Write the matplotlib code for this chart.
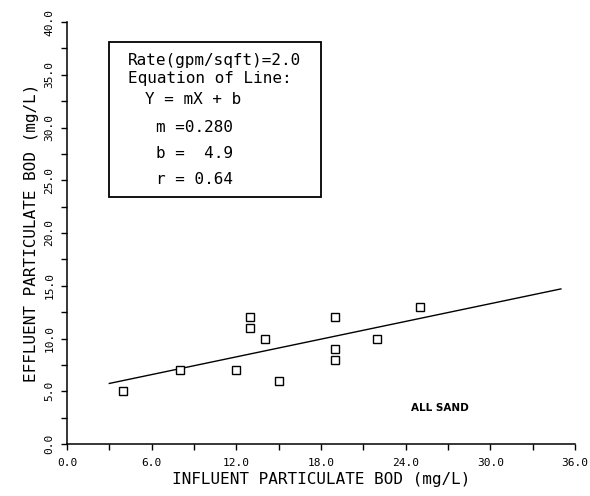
import matplotlib
matplotlib.use("Agg")
import matplotlib.pyplot as plt
from matplotlib.ticker import MultipleLocator, FormatStrFormatter
import numpy as np

# Influent vs effluent particulate BOD, all-sand filter
influent = [4, 8, 12, 13, 13, 14, 15, 19, 19, 19, 22, 25]
effluent = [5, 7, 7, 12, 11, 10, 6, 12, 9, 8, 10, 13]

slope = 0.280
intercept = 4.9
r_value = 0.64
rate = 2.0
fit_range = [3.0, 35.0]

x_ticks = [0, 6, 12, 18, 24, 30, 36]
y_ticks = [0, 5, 10, 15, 20, 25, 30, 35, 40]

mono = "DejaVu Sans Mono"

fig = plt.figure(figsize=(5.90, 4.96), dpi=100)
ax = fig.add_axes([67 / 590, 1 - 444 / 496, 508 / 590, 422 / 496])

ax.plot(influent, effluent, linestyle="none", marker="s", markersize=5.2,
        markerfacecolor="white", markeredgecolor="black", markeredgewidth=1.0,
        zorder=3)

fx = np.array(fit_range)
ax.plot(fx, slope * fx + intercept, color="black", linewidth=1.0, zorder=2)

ax.set_xlim(x_ticks[0], x_ticks[-1])
ax.set_ylim(y_ticks[0], y_ticks[-1])
ax.set_xticks(x_ticks)
ax.set_yticks(y_ticks)
ax.xaxis.set_minor_locator(MultipleLocator(3))
ax.yaxis.set_minor_locator(MultipleLocator(2.5))
ax.xaxis.set_major_formatter(FormatStrFormatter("%.1f"))
ax.yaxis.set_major_formatter(FormatStrFormatter("%.1f"))

for side in ("top", "right"):
    ax.spines[side].set_visible(False)
for side in ("left", "bottom"):
    ax.spines[side].set_linewidth(1.1)

ax.tick_params(which="both", direction="out", length=4, width=1.0, color="black")
ax.tick_params(axis="x", which="major", pad=6)
ax.tick_params(axis="y", which="major", pad=5)
for lab in ax.get_xticklabels():
    lab.set_fontfamily(mono)
    lab.set_fontsize(8)
for lab in ax.get_yticklabels():
    lab.set_fontfamily(mono)
    lab.set_fontsize(8)
    lab.set_rotation(90)
    lab.set_verticalalignment("center")

ax.set_xlabel("INFLUENT PARTICULATE BOD (mg/L)", fontfamily=mono,
              fontsize=11.5, labelpad=3)
ax.set_ylabel("EFFLUENT PARTICULATE BOD (mg/L)", fontfamily=mono,
              fontsize=11.5, labelpad=4)

# Equation box
box = plt.Rectangle((42 / 508, 247 / 422), 212 / 508, 155 / 422,
                    transform=ax.transAxes, fill=False, edgecolor="black",
                    linewidth=1.3, zorder=4)
ax.add_patch(box)

box_lines = [
    (f"Rate(gpm/sqft)={rate:.1f}", 61 / 508, 60),
    ("Equation of Line:", 61 / 508, 78),
    ("Y = mX + b", 78 / 508, 100),
    (f"m ={slope:.3f}", 89 / 508, 127),
    (f"b =  {intercept:.1f}", 89 / 508, 153),
    (f"r = {r_value:.2f}", 89 / 508, 180),
]
for text, xa, ypix in box_lines:
    ax.text(xa, (444 - ypix) / 422, text, transform=ax.transAxes,
            fontfamily=mono, fontsize=11.5, ha="left", va="center")

ax.text(26.4, 3.4, "ALL SAND", fontsize=7.5, fontweight="bold",
        fontfamily="DejaVu Sans", ha="center", va="center")

fig.savefig("out.png", dpi=100)
